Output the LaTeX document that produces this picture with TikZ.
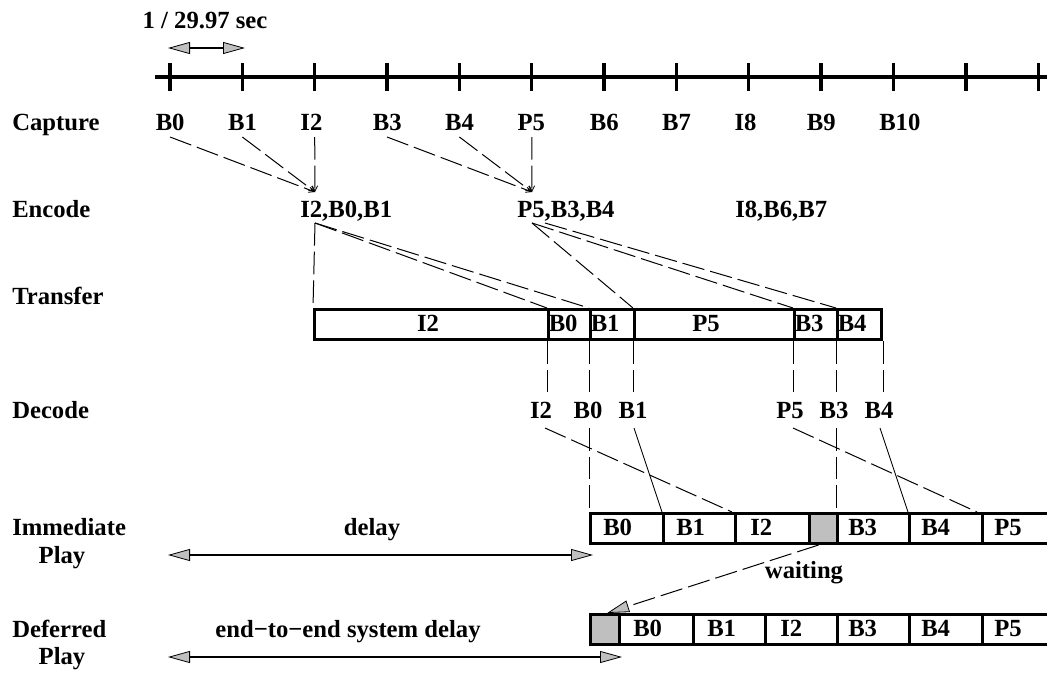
\documentclass[tikz,border=0pt]{standalone}
\usepackage{fontspec}
\setmainfont{Liberation Serif}
\usetikzlibrary{arrows.meta,calc}
\begin{document}
\begin{tikzpicture}[x=0.75pt,y=-0.75pt,
  lbl/.style={font=\bfseries\fontsize{18.5}{22}\selectfont, inner sep=0pt},
  heavy/.style={line width=2.5pt},
  dsh/.style={dash pattern=on 17pt off 4.5pt, line width=0.75pt},
  thinl/.style={line width=0.7pt},
  gar/.tip={Triangle[length=16.5pt,width=9pt,fill=gray!50,line width=0.6pt]},
  sar/.tip={Straight Barb[length=4pt,width=4pt,line width=0.6pt]},
  dblarrow/.style={line width=0.9pt, gar-gar},
  slot/.style={draw, line width=2.6pt, inner sep=0pt, anchor=north west, minimum height={29.5*0.75pt}},
  gslot/.style={slot, fill=gray!50}
]
\useasboundingbox (0,0) rectangle (1047,675);
\clip (0,0) rectangle (1047,675);

% time axis
\coordinate (ax0) at (155,77);
\coordinate (ax1) at (1050,77);
\draw[heavy] (ax0) -- (ax1);
\foreach \i in {0,...,12}
  \draw[heavy] ({170+72.35*\i},63) -- ({170+72.35*\i},91);

% frame period
\coordinate (pa) at (168,48);
\coordinate (pb) at (245,48);
\draw[dblarrow] (pa) -- (pb);
\node[lbl, anchor=base] (period) at (205,28) {1 / 29.97 sec};

% row labels
\node[lbl, anchor=base west] (capture) at (12,130) {Capture};
\node[lbl, anchor=base west] (encode) at (12,217) {Encode};
\node[lbl, anchor=base west] (transfer) at (12,304) {Transfer};
\node[lbl, anchor=base west] (decode) at (12,418) {Decode};
\node[lbl, anchor=base west] (immediate) at (12,535) {Immediate};
\node[lbl, anchor=base] (play1) at (62,563) {Play};
\node[lbl, anchor=base west] (deferred) at (12,637) {Deferred};
\node[lbl, anchor=base] (play2) at (62,664) {Play};

% capture
\foreach \n/\i in {B0/0,B1/1,I2/2,B3/3,B4/4,P5/5,B6/6,B7/7,I8/8,B9/9,B10/10}
  \node[lbl, anchor=base west] (c\n) at ({170+72.35*\i-14.5},130) {\n};

% encode
\node[lbl, anchor=base west] (eA) at (300,217) {I2,B0,B1};
\node[lbl, anchor=base west] (eB) at (517,217) {P5,B3,B4};
\node[lbl, anchor=base west] (eC) at (735,217) {I8,B6,B7};

\foreach \n in {B0,B1,I2}
  \draw[dsh, -sar] ($(c\n.base west)+(14.5,7)$) -- ($(eA.base west)+(15,-25)$);
\foreach \n in {B3,B4,P5}
  \draw[dsh, -sar] ($(c\n.base west)+(14.5,7)$) -- ($(eB.base west)+(15,-25)$);

% transfer
\node[slot, minimum width={234*0.75pt}] (tI2) at (313,308) {};
\node[slot, minimum width={42*0.75pt}] (tB0) at (547,308) {};
\node[slot, minimum width={44*0.75pt}] (tB1) at (589,308) {};
\node[slot, minimum width={160*0.75pt}] (tP5) at (633,308) {};
\node[slot, minimum width={43*0.75pt}] (tB3) at (793,308) {};
\node[slot, minimum width={44*0.75pt}] (tB4) at (836,308) {};
\node[lbl, anchor=base] (tI2l) at (428,331) {I2};
\node[lbl, anchor=base west] (tB0l) at (548.5,331) {B0};
\node[lbl, anchor=base west] (tB1l) at (590.5,331) {B1};
\node[lbl, anchor=base] (tP5l) at (706,331) {P5};
\node[lbl, anchor=base west] (tB3l) at (794.5,331) {B3};
\node[lbl, anchor=base west] (tB4l) at (837.5,331) {B4};

\draw[dsh] ($(eA.base west)+(15,6)$) -- (tI2.north west);
\draw[dsh] ($(eA.base west)+(15,6)$) -- (tB0.north west);
\draw[dsh] ($(eA.base west)+(15,6)$) -- (tB1.north west);
\draw[dsh] ($(eB.base west)+(15,6)$) -- (tP5.north west);
\draw[dsh] ($(eB.base west)+(15,6)$) -- (tB3.north west);
\draw[dsh] ($(eB.base west)+(28,6)$) -- (tB4.north west);

% transfer -> decode
\draw[dsh] (tB0.south west) -- ++(0,52);
\draw[dsh] (tB1.south west) -- ++(0,52);
\draw[dsh] (tP5.south west) -- ++(0,52);
\draw[dsh] (tB3.south west) -- ++(0,52);
\draw[dsh] (tB4.south west) -- ++(0,52);
\draw[dsh] (tB4.south east) -- ++(0,52);

% decode
\node[lbl, anchor=base] (dI2) at (541,418) {I2};
\node[lbl, anchor=base] (dB0) at (588,418) {B0};
\node[lbl, anchor=base] (dB1) at (633,418) {B1};
\node[lbl, anchor=base] (dP5) at (790,418) {P5};
\node[lbl, anchor=base] (dB3) at (834,418) {B3};
\node[lbl, anchor=base] (dB4) at (879,418) {B4};

% immediate play
\node[slot, minimum width={73*0.75pt}] (iB0) at (589,512) {};
\node[slot, minimum width={72*0.75pt}] (iB1) at (662,512) {};
\node[slot, minimum width={74*0.75pt}] (iI2) at (734,512) {};
\node[gslot, minimum width={28*0.75pt}] (iG) at (808,512) {};
\node[slot, minimum width={72*0.75pt}] (iB3) at (836,512) {};
\node[slot, minimum width={73*0.75pt}] (iB4) at (908,512) {};
\node[slot, minimum width={72*0.75pt}] (iP5) at (981,512) {};
\node[lbl, anchor=base west] (iB0l) at (603,535) {B0};
\node[lbl, anchor=base west] (iB1l) at (676,535) {B1};
\node[lbl, anchor=base west] (iI2l) at (750,535) {I2};
\node[lbl, anchor=base west] (iB3l) at (848,535) {B3};
\node[lbl, anchor=base west] (iB4l) at (921,535) {B4};
\node[lbl, anchor=base west] (iP5l) at (994,535) {P5};

\draw[dsh] ($(dI2.base)+(4,10)$) -- ($(iI2.north west)+(-2,0)$);
\draw[dsh] ($(dB0.base)+(1,10)$) -- (iB0.north west);
\draw[thinl] ($(dB1.base)+(1,10)$) -- (iB1.north west);
\draw[dsh] ($(dP5.base)+(3,10)$) -- ($(iP5.north west)+(-4,0)$);
\draw[dsh] ($(dB3.base)+(2,10)$) -- (iB3.north west);
\draw[thinl] ($(dB4.base)+(1,10)$) -- (iB4.north west);

% deferred play
\node[gslot, minimum width={29*0.75pt}] (fG) at (589,613) {};
\node[slot, minimum width={74*0.75pt}] (fB0) at (618,613) {};
\node[slot, minimum width={72*0.75pt}] (fB1) at (692,613) {};
\node[slot, minimum width={72*0.75pt}] (fI2) at (764,613) {};
\node[slot, minimum width={72*0.75pt}] (fB3) at (836,613) {};
\node[slot, minimum width={73*0.75pt}] (fB4) at (908,613) {};
\node[slot, minimum width={72*0.75pt}] (fP5) at (981,613) {};
\node[lbl, anchor=base west] (fB0l) at (633,636) {B0};
\node[lbl, anchor=base west] (fB1l) at (707,636) {B1};
\node[lbl, anchor=base west] (fI2l) at (780,636) {I2};
\node[lbl, anchor=base west] (fB3l) at (848,636) {B3};
\node[lbl, anchor=base west] (fB4l) at (921,636) {B4};
\node[lbl, anchor=base west] (fP5l) at (994,636) {P5};

% waiting
\draw[dsh, -gar] ($(iG.south)+(-5,0)$) -- ($(fG.north)+(2,0)$);
\node[lbl, anchor=base] (waiting) at (804,578) {waiting};

% delays
\coordinate (dl0) at (168,555);
\coordinate (dl1) at (593,555);
\draw[dblarrow] (dl0) -- (dl1);
\node[lbl, anchor=base] (delay) at (372,535) {delay};
\coordinate (el0) at (168,657);
\coordinate (el1) at (622,657);
\draw[dblarrow] (el0) -- (el1);
\node[lbl, anchor=base] (e2e) at (348,637) {end−to−end system delay};
\end{tikzpicture}
\end{document}
